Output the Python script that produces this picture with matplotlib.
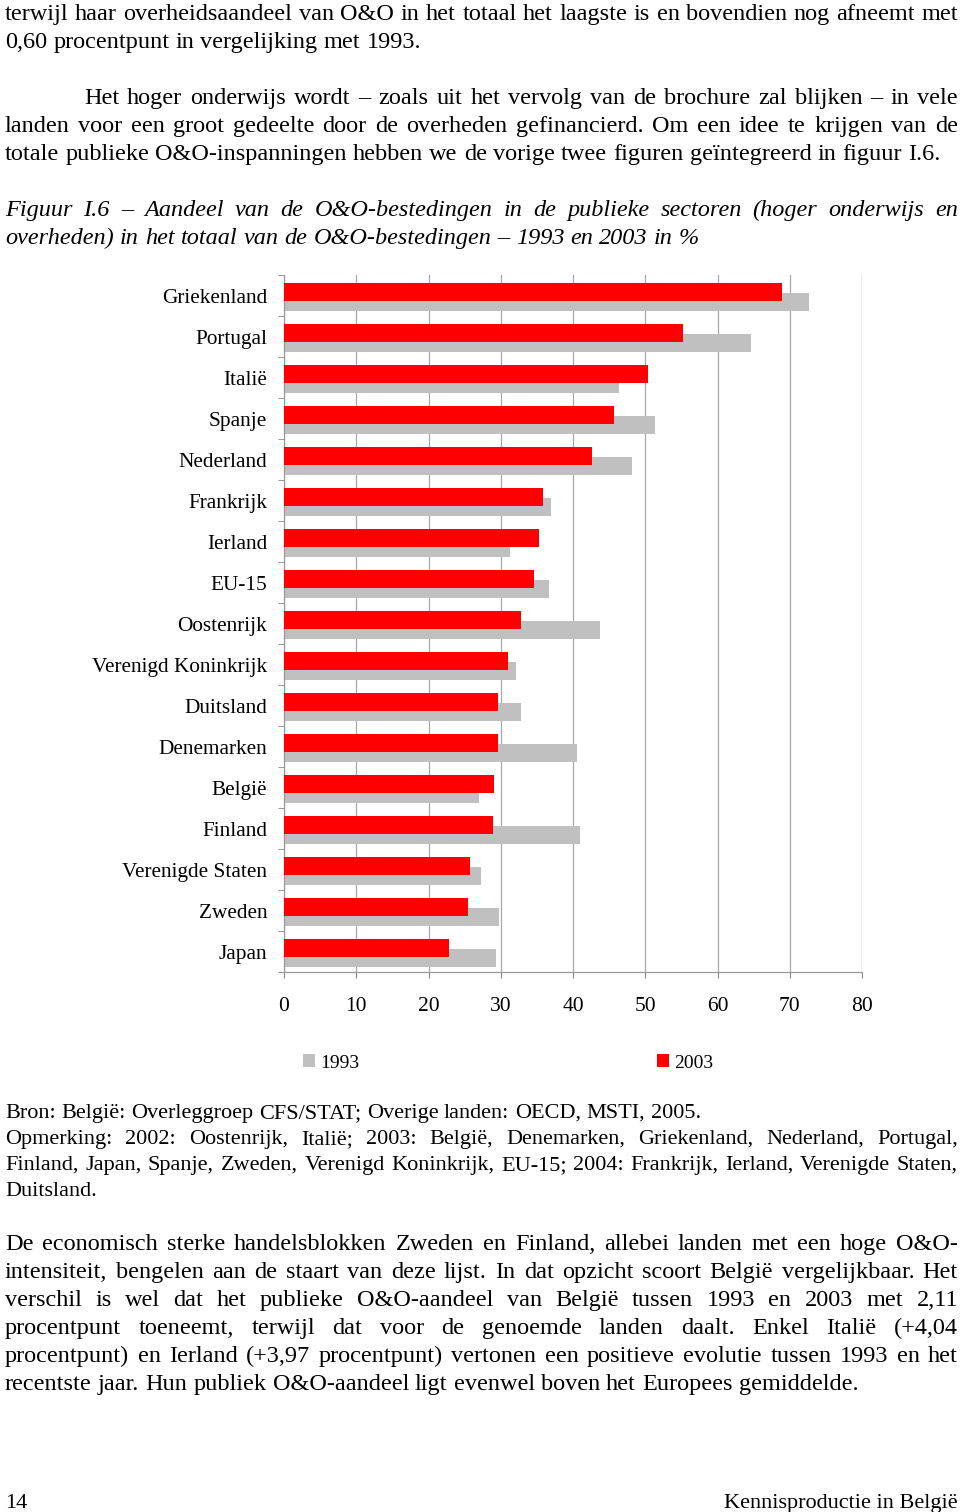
import matplotlib
matplotlib.use('Agg')
import matplotlib.pyplot as plt
import numpy as np

# Figuur I.6 - publieke O&O aandeel, 1993 en 2003
countries = ['Griekenland', 'Portugal', 'Italië', 'Spanje', 'Nederland', 'Frankrijk',
             'Ierland', 'EU-15', 'Oostenrijk', 'Verenigd Koninkrijk', 'Duitsland',
             'Denemarken', 'België', 'Finland', 'Verenigde Staten', 'Zweden', 'Japan']
v2003 = [68.9, 55.2, 50.4, 45.7, 42.6, 35.8, 35.3, 34.6, 32.8, 31.0, 29.6, 29.6,
         29.1, 28.9, 25.7, 25.4, 22.9]
v1993 = [72.6, 64.6, 46.3, 51.3, 48.1, 36.9, 31.3, 36.7, 43.8, 32.1, 32.8, 40.6,
         27.0, 41.0, 27.2, 29.8, 29.4]
xticks = [0, 10, 20, 30, 40, 50, 60, 70, 80]

W, H = 960, 1512
SERIF = 'Liberation Serif'
RED = '#ff0000'
GREY = '#c0c0c0'

fig = plt.figure(figsize=(W / 100, H / 100), dpi=100)
fig.patch.set_facecolor('white')
renderer = fig.canvas.get_renderer()


def put_line(s, ybase, fs, style='normal', justify=True, x0=5, x1=958):
    # one line of page text, optionally justified over x0..x1 (pixels)
    words = s.split(' ')
    texts = [fig.text(0, 0, w, fontsize=fs, style=style, family=SERIF, va='baseline')
             for w in words]
    widths = [t.get_window_extent(renderer).width for t in texts]
    if justify and len(words) > 1:
        gap = (x1 - x0 - sum(widths)) / (len(words) - 1)
    else:
        t = fig.text(0, 0, 'a a', fontsize=fs, style=style, family=SERIF)
        t2 = fig.text(0, 0, 'aa', fontsize=fs, style=style, family=SERIF)
        gap = t.get_window_extent(renderer).width - t2.get_window_extent(renderer).width
        t.remove()
        t2.remove()
    x = x0
    for t, w in zip(texts, widths):
        t.set_position((x / W, 1 - ybase / H))
        x += w + gap


BODY = 17.5
SMALL = 16

put_line('terwijl haar overheidsaandeel van O&O in het totaal het laagste is en bovendien nog afneemt met', 20, BODY)
put_line('0,60 procentpunt in vergelijking met 1993.', 48, BODY, justify=False)

put_line('Het hoger onderwijs wordt – zoals uit het vervolg van de brochure zal blijken – in vele', 104, BODY, x0=84)
put_line('landen voor een groot gedeelte door de overheden gefinancierd. Om een idee te krijgen van de', 132, BODY)
put_line('totale publieke O&O-inspanningen hebben we de vorige twee figuren geïntegreerd in figuur I.6.', 160, BODY, justify=False)

put_line('Figuur I.6 – Aandeel van de O&O-bestedingen in de publieke sectoren (hoger onderwijs en', 216, BODY, style='italic')
put_line('overheden) in het totaal van de O&O-bestedingen – 1993 en 2003 in %', 244, BODY, style='italic', justify=False)

# chart
ax = fig.add_axes([284 / W, 1 - 972 / H, (862 - 284) / W, (972 - 275) / H])
y = np.arange(len(countries))
b93 = ax.barh(y + 0.17, v1993, height=0.44, color=GREY, zorder=2, label='1993')
b03 = ax.barh(y - 0.08, v2003, height=0.44, color=RED, zorder=3, label='2003')
ax.set_ylim(len(countries) - 0.5, -0.5)
ax.set_xlim(0, 80)
ax.set_xticks(xticks)
ax.set_xticklabels([str(v) for v in xticks], fontsize=15.5, family=SERIF)
ax.set_yticks(y)
ax.set_yticklabels(countries, fontsize=15.3, family=SERIF)
ax.set_yticks(np.arange(len(countries) + 1) - 0.5, minor=True)
ax.tick_params(axis='y', which='major', length=0, pad=12)
ax.tick_params(axis='y', which='minor', length=4, color='#888888', direction='out')
ax.tick_params(axis='x', length=4, color='#888888', pad=14)
ax.xaxis.grid(True, color='#a8a8a8', lw=0.9)
ax.axvline(80, color='#a8a8a8', lw=0.9, zorder=1)
ax.set_axisbelow(True)
for side in ['top', 'right']:
    ax.spines[side].set_visible(False)
for side in ['left', 'bottom']:
    ax.spines[side].set_color('#999999')
    ax.spines[side].set_linewidth(0.9)

fig.legend(handles=[b93, b03], loc='center left', bbox_to_anchor=(303 / W, 1 - 1063 / H),
           ncol=2, frameon=False, prop={'family': SERIF, 'size': 14},
           handlelength=0.62, handleheight=0.62, handletextpad=0.26,
           columnspacing=15.3, borderpad=0, borderaxespad=0)

put_line('Bron: België: Overleggroep CFS/STAT; Overige landen: OECD, MSTI, 2005.', 1118, SMALL, justify=False)
put_line('Opmerking: 2002: Oostenrijk, Italië; 2003: België, Denemarken, Griekenland, Nederland, Portugal,', 1144, SMALL)
put_line('Finland, Japan, Spanje, Zweden, Verenigd Koninkrijk, EU-15; 2004: Frankrijk, Ierland, Verenigde Staten,', 1170, SMALL)
put_line('Duitsland.', 1196, SMALL, justify=False)

put_line('De economisch sterke handelsblokken Zweden en Finland, allebei landen met een hoge O&O-', 1250, BODY)
put_line('intensiteit, bengelen aan de staart van deze lijst. In dat opzicht scoort België vergelijkbaar. Het', 1278, BODY)
put_line('verschil is wel dat het publieke O&O-aandeel van België tussen 1993 en 2003 met 2,11', 1306, BODY)
put_line('procentpunt toeneemt, terwijl dat voor de genoemde landen daalt. Enkel Italië (+4,04', 1334, BODY)
put_line('procentpunt) en Ierland (+3,97 procentpunt) vertonen een positieve evolutie tussen 1993 en het', 1362, BODY)
put_line('recentste jaar. Hun publiek O&O-aandeel ligt evenwel boven het Europees gemiddelde.', 1390, BODY, justify=False)

fig.text(5 / W, 1 - 1508 / H, '14', fontsize=SMALL, family=SERIF, va='baseline')
fig.text(958 / W, 1 - 1508 / H, 'Kennisproductie in België', fontsize=SMALL, family=SERIF,
         va='baseline', ha='right')

fig.savefig('out.png', dpi=100)
